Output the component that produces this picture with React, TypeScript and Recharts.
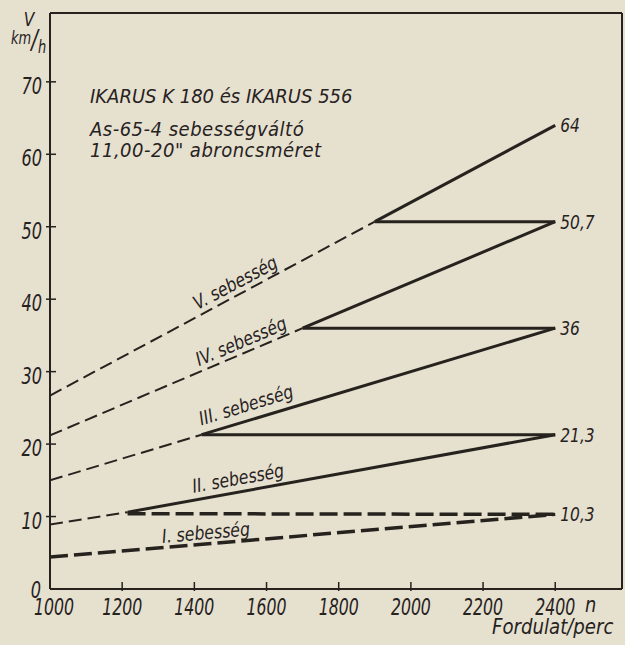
import React from "react";
import { LineChart, Line, XAxis, YAxis, ReferenceLine, ReferenceDot, Customized } from "recharts";

// ---- data ----
const xTicks = [1000, 1200, 1400, 1600, 1800, 2000, 2200, 2400];
const yTicks = [0, 10, 20, 30, 40, 50, 60, 70];

const vDashed = [{ n: 1000, v: 26.7 }, { n: 1900, v: 50.7 }];
const vSolid = [{ n: 1900, v: 50.7 }, { n: 2400, v: 64 }];
const vShift = [{ n: 1900, v: 50.7 }, { n: 2400, v: 50.7 }];

const ivDashed = [{ n: 1000, v: 21.2 }, { n: 1700, v: 36 }];
const ivSolid = [{ n: 1700, v: 36 }, { n: 2400, v: 50.7 }];
const ivShift = [{ n: 1700, v: 36 }, { n: 2400, v: 36 }];

const iiiDashed = [{ n: 1000, v: 15 }, { n: 1420, v: 21.3 }];
const iiiSolid = [{ n: 1420, v: 21.3 }, { n: 2400, v: 36 }];
const iiiShift = [{ n: 1420, v: 21.3 }, { n: 2400, v: 21.3 }];

const iiDashed = [{ n: 1000, v: 8.9 }, { n: 1215, v: 10.6 }];
const iiSolid = [{ n: 1215, v: 10.6 }, { n: 2400, v: 21.3 }];
const iiShift = [{ n: 1215, v: 10.4 }, { n: 2400, v: 10.3 }];

const iLine = [{ n: 1000, v: 4.4 }, { n: 2400, v: 10.3 }];

const gearLabels = ["I. sebesség", "II. sebesség", "III. sebesség", "IV. sebesség", "V. sebesség"];
const gearLabelN = [1432, 1521, 1543, 1529, 1513];
const gearLabelV = [7.8, 15.3, 25.4, 34.2, 42.3];
const gearLabelAngle = [-5, -10, -17, -23, -28];

const endValues = [10.3, 21.3, 36, 50.7, 64];
const endTexts = ["10,3", "21,3", "36", "50,7", "64"];

const titleLines = ["IKARUS K 180 és IKARUS 556", "As-65-4 sebességváltó", "11,00-20\" abroncsméret"];

// ---- styling ----
const INK = "#26221e";
const PAPER = "#e6e0cf";
const FONT = "'DejaVu Sans Condensed', 'DejaVu Sans', 'Liberation Sans', sans-serif";
const X_MAX = 2585;
const Y_MAX = 79.5;

type HProps = {
  x: number;
  y: number;
  size: number;
  sx?: number;
  angle?: number;
  anchor?: "start" | "middle" | "end";
  dy?: string | number;
  ls?: number;
  children: React.ReactNode;
};

// hand-lettered style text: italic, horizontally condensed via scale
const HText = ({ x, y, size, sx = 1, angle = 0, anchor = "start", dy, ls, children }: HProps) => (
  <text
    x={0}
    y={0}
    dy={dy}
    transform={`translate(${x}, ${y}) rotate(${angle}) scale(${sx}, 1)`}
    textAnchor={anchor}
    fontFamily={FONT}
    fontStyle="italic"
    fontSize={size}
    letterSpacing={ls}
    fill={INK}
  >
    {children}
  </text>
);

const XTick = (props: any) => {
  const { x, y, payload } = props;
  return (
    <g>
      {payload.value !== 1000 && (
        <line x1={x} x2={x} y1={y - 7} y2={y + 2} stroke={INK} strokeWidth={1.5} />
      )}
      <HText x={payload.value === 1000 ? x + 4 : x} y={y + 26} size={23} sx={0.76} anchor="middle">
        {payload.value}
      </HText>
    </g>
  );
};

const YTick = (props: any) => {
  const { x, y, payload } = props;
  return (
    <g>
      {payload.value !== 0 && (
        <line x1={x - 4} x2={x + 6} y1={y} y2={y} stroke={INK} strokeWidth={1.5} />
      )}
      <HText x={payload.value === 0 ? x - 9 : x - 8} y={payload.value === 0 ? y + 9 : y + 12} size={23} sx={0.78} anchor="end">
        {payload.value}
      </HText>
    </g>
  );
};

const gearLabelContent = (text: string, angle: number) => (props: any) => {
  const vb = props.viewBox || {};
  const cx = vb.x + (vb.width || 0) / 2;
  const cy = vb.y + (vb.height || 0) / 2;
  return (
    <HText x={cx} y={cy} dy="0.35em" size={19} sx={0.92} angle={angle} anchor="middle">
      {text}
    </HText>
  );
};

const endLabelContent = (text: string) => (props: any) => {
  const vb = props.viewBox || {};
  const cx = vb.x + (vb.width || 0) / 2;
  const cy = vb.y + (vb.height || 0) / 2;
  return (
    <HText x={cx + 5} y={cy} dy="0.35em" size={20} sx={0.86}>
      {text}
    </HText>
  );
};

const Annotations = () => (
  <g>
    <HText x={29} y={26} size={19} sx={0.9} anchor="middle">V</HText>
    <text fontFamily={FONT} fontStyle="italic" fill={INK} fontSize={17} transform="translate(11,44) scale(0.85,1)">
      km
      <tspan fontSize={26} dy={5}>/</tspan>
      <tspan fontSize={17} dy={4}>h</tspan>
    </text>
    <HText x={90} y={103} size={20} ls={0}>{titleLines[0]}</HText>
    <HText x={90} y={136} size={20} ls={0.5}>{titleLines[1]}</HText>
    <HText x={90} y={157} size={20} ls={0.5}>{titleLines[2]}</HText>
    <HText x={585} y={612} size={22} sx={0.9}>n</HText>
    <HText x={492} y={634} size={21} sx={0.96}>Fordulat/perc</HText>
  </g>
);

const thin = { stroke: INK, strokeWidth: 2, strokeDasharray: "13 6", dot: false, isAnimationActive: false, type: "linear" as const, dataKey: "v" };
const solid = { stroke: INK, strokeWidth: 3, dot: false, isAnimationActive: false, type: "linear" as const, dataKey: "v" };
const thick = { stroke: INK, strokeWidth: 3.5, strokeDasharray: "18 6", dot: false, isAnimationActive: false, type: "linear" as const, dataKey: "v" };

export default function App() {
  return (
    <div style={{ position: "absolute", left: 0, top: 0, width: 625, height: 645, background: PAPER }}>
      <LineChart width={625} height={645} margin={{ top: 13, right: 3, bottom: 0, left: 0 }}>
        <XAxis
          dataKey="n"
          type="number"
          domain={[1000, X_MAX]}
          allowDataOverflow
          ticks={xTicks}
          tick={<XTick />}
          tickLine={false}
          tickSize={0}
          tickMargin={0}
          height={56}
          axisLine={{ stroke: INK, strokeWidth: 2 }}
          interval={0}
        />
        <YAxis
          type="number"
          domain={[0, Y_MAX]}
          allowDataOverflow
          ticks={yTicks}
          tick={<YTick />}
          tickLine={false}
          tickSize={0}
          tickMargin={0}
          width={50}
          axisLine={{ stroke: INK, strokeWidth: 2 }}
          interval={0}
        />
        <ReferenceLine y={Y_MAX} stroke={INK} strokeWidth={2} />
        <ReferenceLine x={X_MAX} stroke={INK} strokeWidth={2} />

        <Line data={vDashed} {...thin} />
        <Line data={vSolid} {...solid} />
        <Line data={vShift} {...solid} />
        <Line data={ivDashed} {...thin} />
        <Line data={ivSolid} {...solid} />
        <Line data={ivShift} {...solid} />
        <Line data={iiiDashed} {...thin} />
        <Line data={iiiSolid} {...solid} />
        <Line data={iiiShift} {...solid} />
        <Line data={iiDashed} {...thin} />
        <Line data={iiSolid} {...solid} />
        <Line data={iiShift} {...thick} />
        <Line data={iLine} {...thick} />

        {gearLabels.map((t, i) => (
          <ReferenceDot
            key={"g" + i}
            x={gearLabelN[i]}
            y={gearLabelV[i]}
            r={1}
            fill="none"
            stroke="none"
            label={{ content: gearLabelContent(t, gearLabelAngle[i]) }}
          />
        ))}
        {endTexts.map((t, i) => (
          <ReferenceDot
            key={"e" + i}
            x={2400}
            y={endValues[i]}
            r={1}
            fill="none"
            stroke="none"
            label={{ content: endLabelContent(t) }}
          />
        ))}
        <Customized component={Annotations} />
      </LineChart>
    </div>
  );
}
